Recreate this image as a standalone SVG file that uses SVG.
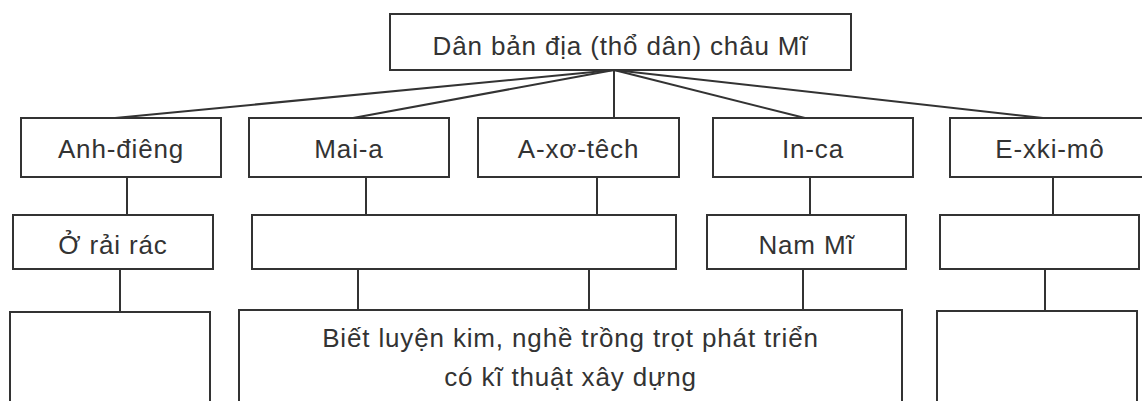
<svg xmlns="http://www.w3.org/2000/svg" width="1142" height="401" viewBox="0 0 1142 401">
<style>
  .box { fill: #ffffff; stroke: #333333; stroke-width: 2; }
  .lbl { font-family: "Liberation Sans", Arial, sans-serif; font-size: 26px; letter-spacing: 0.85px; fill: #333333; text-anchor: middle; }
  .con { stroke: #333333; stroke-width: 2; fill: none; }
</style>
<rect x="0" y="0" width="1142" height="401" fill="#ffffff"/>
<g id="connectors">
  <line class="con" x1="614" y1="70" x2="115" y2="118"/>
  <line class="con" x1="614" y1="70" x2="353" y2="118"/>
  <line class="con" x1="614" y1="70" x2="614" y2="118"/>
  <line class="con" x1="614" y1="70" x2="805" y2="118"/>
  <line class="con" x1="614" y1="70" x2="1043" y2="118"/>
  <line class="con" x1="127" y1="177" x2="127" y2="215"/>
  <line class="con" x1="366" y1="177" x2="366" y2="215"/>
  <line class="con" x1="597" y1="177" x2="597" y2="215"/>
  <line class="con" x1="810" y1="177" x2="810" y2="215"/>
  <line class="con" x1="1053" y1="177" x2="1053" y2="215"/>
  <line class="con" x1="120" y1="269" x2="120" y2="312"/>
  <line class="con" x1="358" y1="269" x2="358" y2="310"/>
  <line class="con" x1="589" y1="269" x2="589" y2="310"/>
  <line class="con" x1="803" y1="269" x2="803" y2="310"/>
  <line class="con" x1="1045" y1="269" x2="1045" y2="311"/>
</g>
<g id="root">
  <rect class="box" x="390" y="14" width="461" height="56"/>
  <text class="lbl" x="620.5" y="55">Dân bản địa (thổ dân) châu Mĩ</text>
</g>
<g id="anh-dieng">
  <rect class="box" x="21" y="118" width="200" height="59"/>
  <text class="lbl" x="121" y="158">Anh-điêng</text>
</g>
<g id="mai-a">
  <rect class="box" x="249" y="118" width="200" height="59"/>
  <text class="lbl" x="349" y="158">Mai-a</text>
</g>
<g id="a-xo-tech">
  <rect class="box" x="478" y="118" width="201" height="59"/>
  <text class="lbl" x="578.5" y="158">A-xơ-têch</text>
</g>
<g id="in-ca">
  <rect class="box" x="713" y="118" width="200" height="59"/>
  <text class="lbl" x="813" y="158">In-ca</text>
</g>
<g id="e-xki-mo">
  <rect class="box" x="950" y="118" width="200" height="59"/>
  <text class="lbl" x="1050" y="158">E-xki-mô</text>
</g>
<g id="o-rai-rac">
  <rect class="box" x="13" y="215" width="200" height="54"/>
  <text class="lbl" x="113" y="254">Ở rải rác</text>
</g>
<g id="mai-a-aztec-region">
  <rect class="box" x="252" y="215" width="424" height="54"/>
</g>
<g id="nam-mi">
  <rect class="box" x="707" y="215" width="199" height="54"/>
  <text class="lbl" x="806.5" y="254">Nam Mĩ</text>
</g>
<g id="eskimo-region">
  <rect class="box" x="940" y="215" width="199" height="54"/>
</g>
<g id="anh-dieng-feature">
  <rect class="box" x="10" y="312" width="200" height="100"/>
</g>
<g id="civilization-feature">
  <rect class="box" x="239" y="310" width="663" height="100"/>
  <text class="lbl" x="570.5" y="347">Biết luyện kim, nghề trồng trọt phát triển</text>
  <text class="lbl" x="570.5" y="386">có kĩ thuật xây dựng</text>
</g>
<g id="eskimo-feature">
  <rect class="box" x="937" y="311" width="200" height="100"/>
</g>
</svg>
